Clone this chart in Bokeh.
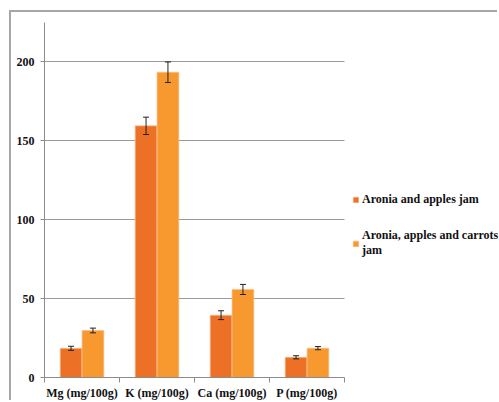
from bokeh.plotting import figure
from bokeh.models import ColumnDataSource, FixedTicker, Legend, LegendItem, Whisker, Range1d
from bokeh.embed import file_html
from bokeh.resources import INLINE

categories = ["Mg (mg/100g)", "K (mg/100g)", "Ca (mg/100g)", "P (mg/100g)"]
series_names = ["Aronia and apples jam", "Aronia, apples and carrots\njam"]
jam1 = [18.5, 159.5, 39.5, 12.8]
jam1_err = [1.3, 5.5, 2.8, 1.0]
jam2 = [29.8, 193.5, 55.8, 18.6]
jam2_err = [1.5, 6.5, 3.2, 1.0]
colors = ["#EC7026", "#F7992E"]

FONT = "Liberation Serif"
n = len(categories)
# the frame continues right of the last category to hold the legend
x_end = n * 455 / 300

p = figure(width=488, height=390, output_backend="svg", toolbar_location=None,
           x_range=Range1d(0, x_end), y_range=Range1d(0, 225),
           min_border_left=33, min_border_top=10, min_border_bottom=24, min_border_right=0,
           styles={"margin-left": "9px", "margin-top": "10px",
                   "border-left": "2px solid #a6a6a6", "border-top": "2px solid #a6a6a6"})
p.outline_line_color = None
p.background_fill_color = "white"

xc = [i + 0.5 for i in range(n)]
off = 0.146
w = 0.29
items = []
for k, (vals, errs) in enumerate([(jam1, jam1_err), (jam2, jam2_err)]):
    xs = [x + (-off if k == 0 else off) for x in xc]
    src = ColumnDataSource(dict(x=xs, top=vals, lo=[v - e for v, e in zip(vals, errs)],
                                hi=[v + e for v, e in zip(vals, errs)]))
    r = p.vbar(x="x", top="top", width=w, source=src, fill_color=colors[k],
               line_color="#F8C090", line_width=1, line_alpha=0.7)
    wk = Whisker(base="x", lower="lo", upper="hi", source=src, line_color="#222222",
                 line_width=1, level="overlay")
    wk.upper_head.size = 6
    wk.lower_head.size = 6
    wk.upper_head.line_color = "#222222"
    wk.lower_head.line_color = "#222222"
    p.add_layout(wk)
    items.append(LegendItem(label=series_names[k], renderers=[r]))

# y axis
p.yaxis.ticker = FixedTicker(ticks=[0, 50, 100, 150, 200])
p.yaxis.axis_line_color = "#8c8c8c"
p.yaxis.major_tick_line_color = "#8c8c8c"
p.yaxis.major_tick_out = 4
p.yaxis.major_tick_in = 0
p.yaxis.minor_tick_line_color = None
p.yaxis.major_label_text_font = FONT
p.yaxis.major_label_text_font_style = "bold"
p.yaxis.major_label_text_font_size = "12px"
p.yaxis.major_label_text_color = "#111111"
p.yaxis.major_label_standoff = 6

# x axis
p.xaxis.ticker = FixedTicker(ticks=xc, minor_ticks=list(range(n + 1)))
p.xaxis.major_label_overrides = {x: c for x, c in zip(xc, categories)}
p.xaxis.bounds = (0, n)
p.xaxis.axis_line_color = "#8c8c8c"
p.xaxis.major_tick_line_color = None
p.xaxis.major_tick_out = 0
p.xaxis.major_tick_in = 0
p.xaxis.minor_tick_line_color = "#8c8c8c"
p.xaxis.minor_tick_out = 5
p.xaxis.minor_tick_in = 0
p.xaxis.major_label_text_font = FONT
p.xaxis.major_label_text_font_style = "bold"
p.xaxis.major_label_text_font_size = "12px"
p.xaxis.major_label_text_color = "#111111"
p.xaxis.major_label_standoff = 3

p.xgrid.grid_line_color = None
p.ygrid.grid_line_color = "#9a9a9a"
p.ygrid.grid_line_width = 1
try:
    p.ygrid.cross_bounds = (0, n)
except Exception:
    p.ygrid.bounds = (0, n)

legend = Legend(items=items, location=(308, 119), border_line_color=None,
                label_text_font=FONT, label_text_font_style="bold",
                label_text_font_size="12px", label_text_color="#111111",
                glyph_width=7, glyph_height=7, label_standoff=3, spacing=21,
                padding=0, margin=0, background_fill_alpha=0)
p.add_layout(legend)

open("out.html", "w").write(file_html(p, INLINE))
